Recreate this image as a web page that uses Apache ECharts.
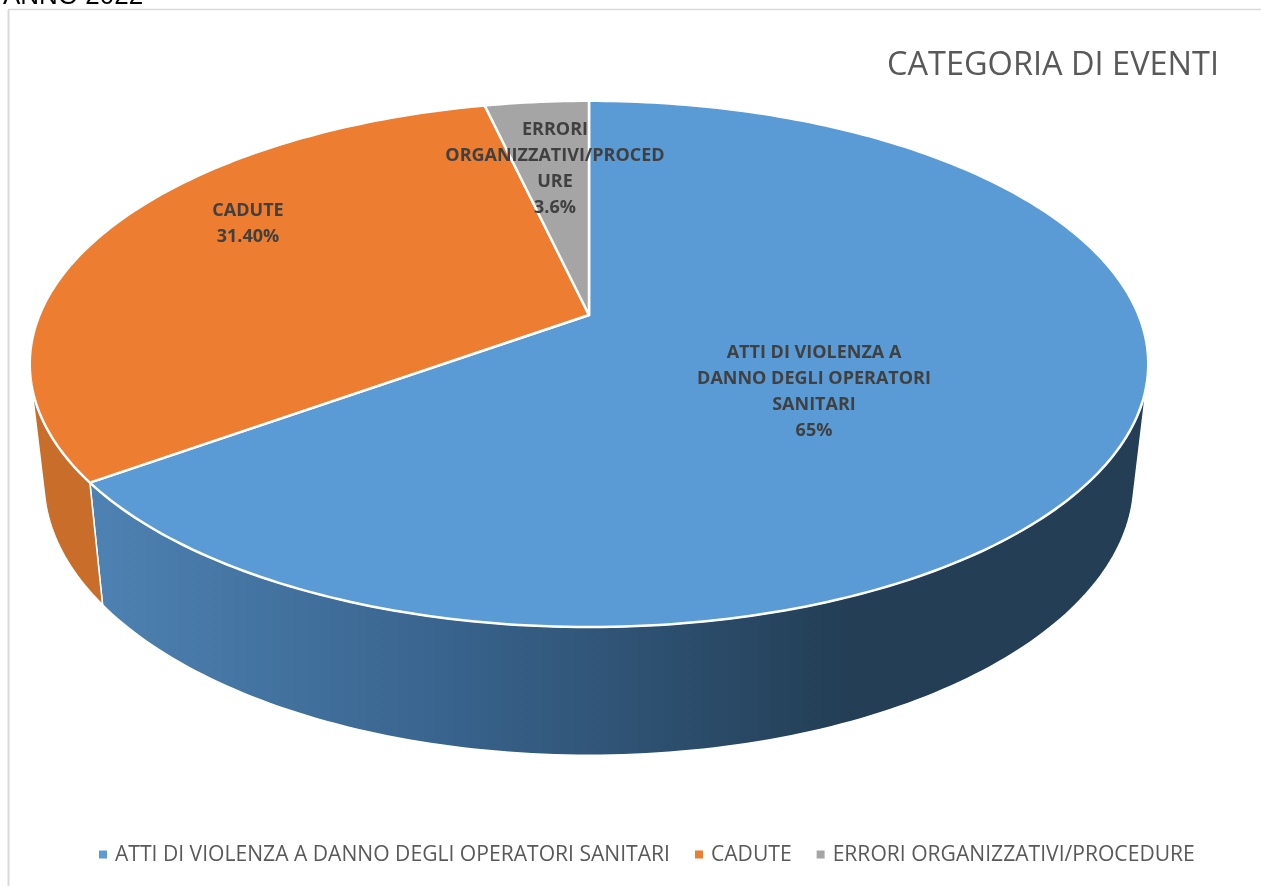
<!DOCTYPE html>
<html>
<head>
<meta charset="utf-8">
<title>Categoria di eventi</title>
<script src="https://cdn.jsdelivr.net/npm/echarts@6/dist/echarts.min.js"></script>
<style>
  html, body { margin: 0; padding: 0; background: #fff; }
  #myChart { width: 1261px; height: 886px; }
</style>
</head>
<body>
<div id="myChart"></div>
<script>
// dati
var categories = ['ATTI DI VIOLENZA A DANNO DEGLI OPERATORI SANITARI', 'CADUTE', 'ERRORI ORGANIZZATIVI/PROCEDURE']
var values = [65, 31.4, 3.6]
var labelTexts = [
  'ATTI DI VIOLENZA A\nDANNO DEGLI OPERATORI\nSANITARI\n65%',
  'CADUTE\n31.40%',
  'ERRORI\nORGANIZZATIVI/PROCED\nURE\n3.6%'
]

// colori
var topColors = ['#5b9bd5', '#ed7d31', '#a5a5a5']
var wallStops = [
  [{ offset: 0, color: '#4d81b1' }, { offset: 0.45, color: '#39648e' }, { offset: 1, color: '#233e55' }],
  [{ offset: 0, color: '#c96d2a' }, { offset: 1, color: '#c56a28' }],
  [{ offset: 0, color: '#7c7c7c' }, { offset: 1, color: '#7c7c7c' }]
]

// layout: dischi in prospettiva, parte visibile della parete, posizione etichette
var topDisc = { cx: 589, cy: 315, w: 549.5, h: 254, k: 0.186 }
var bottomDisc = { cx: 589, cy: 430.3, w: 535.5, h: 264.5, k: 0.186 }
var wallFrom = 104
var wallTo = 256
var labelPos = [[814, 392], [248, 223.5], [555, 168.5]]

var total = values.reduce(function (a, b) { return a + b }, 0)

// punto sul bordo del disco, angolo in gradi dall'alto in senso orario
function rimPoint (disc, deg) {
  var t = deg * Math.PI / 180
  var X = Math.sin(t)
  var Y = -Math.cos(t)
  var d = 1 - disc.k * Y
  return [disc.cx + disc.w * X / d, disc.cy + disc.h * Y / d]
}

function arcPoints (disc, from, to) {
  var pts = []
  var n = Math.max(2, Math.ceil(Math.abs(to - from)))
  for (var i = 0; i <= n; i++) {
    pts.push(rimPoint(disc, from + (to - from) * i / n))
  }
  return pts
}

function renderSlice (index) {
  return function (params, api) {
    var start = 0
    for (var i = 0; i < index; i++) start += values[i]
    var from = start / total * 360
    var to = from + api.value(0) / total * 360
    var children = []

    // parete laterale, solo il tratto rivolto verso chi guarda
    var a = Math.max(from, wallFrom)
    var b = Math.min(to, wallTo)
    if (b > a) {
      var wall = arcPoints(topDisc, a, b).concat(arcPoints(bottomDisc, b, a))
      children.push({
        type: 'polygon',
        shape: { points: wall },
        style: {
          fill: new echarts.graphic.LinearGradient(103, 0, 850, 0, wallStops[index], true),
          stroke: '#fff',
          lineWidth: 1.5
        }
      })
    }

    // faccia superiore
    var face = [[topDisc.cx, topDisc.cy]].concat(arcPoints(topDisc, from, to))
    children.push({
      type: 'polygon',
      shape: { points: face },
      style: { fill: api.visual('color'), stroke: '#fff', lineWidth: 2.5, lineJoin: 'round' }
    })
    return { type: 'group', children: children }
  }
}

// etichette in una serie a parte, sopra a tutte le fette
function renderLabel (params, api) {
  var i = params.dataIndex
  return {
    type: 'text',
    x: labelPos[i][0],
    y: labelPos[i][1],
    style: {
      text: labelTexts[i],
      fill: '#404040',
      font: 'bold 18px "Open Sans"',
      lineHeight: 26,
      align: 'center',
      verticalAlign: 'middle'
    }
  }
}

var series = categories.map(function (name, i) {
  return {
    name: name,
    type: 'custom',
    coordinateSystem: 'none',
    renderItem: renderSlice(i),
    data: [values[i]],
    animation: false
  }
})
series.push({
  type: 'custom',
  coordinateSystem: 'none',
  renderItem: renderLabel,
  data: values,
  z: 5,
  silent: true,
  animation: false
})

var myChart = echarts.init(document.getElementById('myChart'))
myChart.setOption({
  animation: false,
  color: topColors,
  title: {
    text: 'CATEGORIA DI EVENTI',
    left: 887,
    top: 49,
    padding: 0,
    textStyle: { fontFamily: 'Open Sans', fontSize: 32.5, fontWeight: 'normal', color: '#595959' }
  },
  legend: {
    data: categories,
    left: 99,
    top: 844,
    padding: 0,
    icon: 'rect',
    itemWidth: 8,
    itemHeight: 8,
    itemGap: 25,
    textStyle: { fontFamily: 'Open Sans', fontSize: 21.1, color: '#595959', padding: [0, 0, 0, 3] }
  },
  graphic: [
    { type: 'text', x: 3, y: -16, style: { text: 'ANNO 2022', font: '26px "Liberation Sans"', fill: '#000' } },
    { type: 'line', shape: { x1: 8.5, y1: 10, x2: 8.5, y2: 886 }, style: { stroke: '#d9d9d9', lineWidth: 2 } },
    { type: 'line', shape: { x1: 8, y1: 9.5, x2: 1261, y2: 9.5 }, style: { stroke: '#d9d9d9', lineWidth: 1.5 } }
  ],
  series: series
})
</script>
</body>
</html>
